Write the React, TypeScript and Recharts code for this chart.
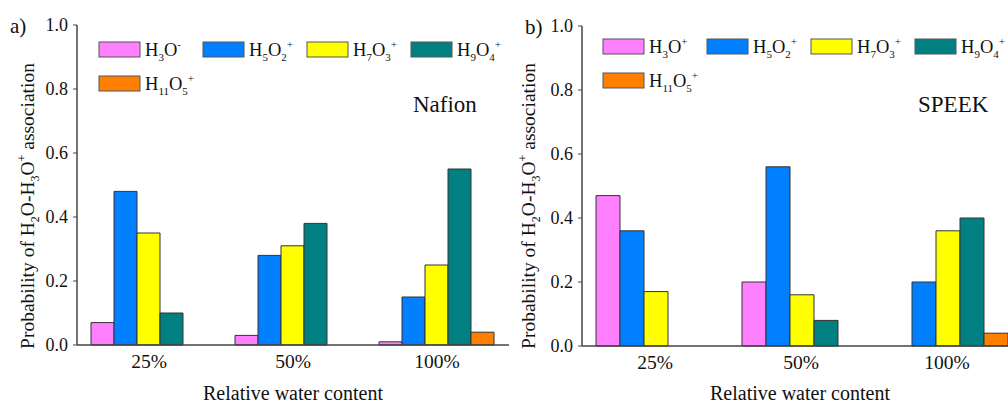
import { Bar, BarChart, XAxis, YAxis } from 'recharts';

const FONT = '"Liberation Serif", "Times New Roman", serif';

const categories = ['25%', '50%', '100%'];
const yTicks = [0, 0.2, 0.4, 0.6, 0.8, 1.0];

// a) Nafion
const nafionH3O = [0.07, 0.03, 0.01];
const nafionH5O2 = [0.48, 0.28, 0.15];
const nafionH7O3 = [0.35, 0.31, 0.25];
const nafionH9O4 = [0.1, 0.38, 0.55];
const nafionH11O5 = [0, 0, 0.04];

// b) SPEEK
const speekH3O = [0.47, 0.2, 0];
const speekH5O2 = [0.36, 0.56, 0.2];
const speekH7O3 = [0.17, 0.16, 0.36];
const speekH9O4 = [0, 0.08, 0.4];
const speekH11O5 = [0, 0, 0.04];

const seriesKeys = ['h3o', 'h5o2', 'h7o3', 'h9o4', 'h11o5'];
const seriesColors = ['#ff80ff', '#0080ff', '#ffff00', '#008080', '#ff8000'];
// H and O subscripts for each cluster
const seriesH = ['3', '5', '7', '9', '11'];
const seriesO = ['', '2', '3', '4', '5'];

const buildRows = (cols: number[][]) =>
  categories.map((cat, i) => {
    const row: Record<string, string | number> = { cat };
    seriesKeys.forEach((k, j) => (row[k] = cols[j][i]));
    return row;
  });

const nafionRows = buildRows([nafionH3O, nafionH5O2, nafionH7O3, nafionH9O4, nafionH11O5]);
const speekRows = buildRows([speekH3O, speekH5O2, speekH7O3, speekH9O4, speekH11O5]);

const AXIS = '#444';

const YTick = (props: any) => (
  <text x={props.x} y={props.y} dy={6} textAnchor="end" fontSize={18} fill="#111" fontFamily={FONT}>
    {Number(props.payload.value).toFixed(1)}
  </text>
);

const XTick = (props: any) => (
  <text x={props.x} y={props.y} dy={23} textAnchor="middle" fontSize={19.5} fill="#111" fontFamily={FONT}>
    {props.payload.value}
  </text>
);

interface PanelProps {
  rows: Record<string, string | number>[];
  left: number;
  width: number;
  margin: { top: number; right: number; bottom: number; left: number };
}

function Panel({ rows, left, width, margin }: PanelProps) {
  return (
    <div style={{ position: 'absolute', left, top: 0 }}>
      <BarChart width={width} height={403} data={rows} margin={margin} barCategoryGap={14} barGap={0}>
        <XAxis
          dataKey="cat"
          height={30}
          tickSize={0}
          tickMargin={0}
          tickLine={false}
          axisLine={{ stroke: AXIS, strokeWidth: 1.5 }}
          tick={<XTick />}
        />
        <XAxis
          xAxisId="top"
          dataKey="cat"
          orientation="top"
          height={0}
          tick={false}
          tickLine={false}
          axisLine={{ stroke: AXIS, strokeWidth: 1.5 }}
        />
        <YAxis
          width={60}
          domain={[0, 1]}
          ticks={yTicks}
          tickSize={4}
          tickMargin={5}
          tickLine={{ stroke: AXIS }}
          axisLine={{ stroke: AXIS, strokeWidth: 1.5 }}
          tick={<YTick />}
        />
        <YAxis
          yAxisId="right"
          orientation="right"
          width={0}
          domain={[0, 1]}
          tick={false}
          tickLine={false}
          axisLine={{ stroke: AXIS, strokeWidth: 1.5 }}
        />
        {seriesKeys.map((k, j) => (
          <Bar
            key={k}
            dataKey={k}
            fill={seriesColors[j]}
            stroke="#333"
            strokeWidth={1}
            isAnimationActive={false}
          />
        ))}
      </BarChart>
    </div>
  );
}

const Formula = ({ j, charge }: { j: number; charge: string }) => (
  <>
    H<tspan dy={5} fontSize={11}>{seriesH[j]}</tspan>
    <tspan dy={-5}>O</tspan>
    {seriesO[j] && <tspan dy={5} fontSize={11}>{seriesO[j]}</tspan>}
    <tspan dy={seriesO[j] ? -13 : -8} fontSize={11}>{charge}</tspan>
  </>
);

function LegendBlock({ x0, y0, charge }: { x0: number; y0: number; charge: string }) {
  return (
    <g>
      {seriesKeys.map((k, j) => {
        const bx = x0 + (j % 4) * 104;
        const by = y0 + Math.floor(j / 4) * 34;
        return (
          <g key={k}>
            <rect x={bx} y={by} width={41} height={15} fill={seriesColors[j]} stroke="#555" strokeWidth={1} />
            <text x={bx + 46} y={by + 14} fontSize={18.5} fill="#111" fontFamily={FONT}>
              <Formula j={j} charge={j === 0 ? charge : '+'} />
            </text>
          </g>
        );
      })}
    </g>
  );
}

const YTitle = ({ x, y }: { x: number; y: number }) => (
  <text x={x} y={y} transform={`rotate(-90 ${x} ${y})`} textAnchor="middle" fontSize={19.5} fill="#111" fontFamily={FONT}>
    Probability of H<tspan dy={5} fontSize={12}>2</tspan>
    <tspan dy={-5}>O-H</tspan>
    <tspan dy={5} fontSize={12}>3</tspan>
    <tspan dy={-5}>O</tspan>
    <tspan dy={-8} fontSize={12}>+</tspan>
    <tspan dy={8}> association</tspan>
  </text>
);

export default function App() {
  return (
    <div style={{ position: 'absolute', left: 0, top: 0, width: 1008, height: 403, overflow: 'hidden', background: '#fff' }}>
      <Panel rows={nafionRows} left={0} width={520} margin={{ top: 25, right: 11, bottom: 28, left: 17 }} />
      <Panel rows={speekRows} left={505} width={515} margin={{ top: 26, right: 0, bottom: 27, left: 17 }} />
      <svg width={1008} height={403} style={{ position: 'absolute', left: 0, top: 0, pointerEvents: 'none' }}>
        <text x={10} y={33} fontSize={21} fill="#111" fontFamily={FONT}>a)</text>
        <text x={525} y={34} fontSize={21} fill="#111" fontFamily={FONT}>b)</text>
        <YTitle x={34} y={206} />
        <YTitle x={535} y={206} />
        <LegendBlock x0={99} y0={42} charge="-" />
        <LegendBlock x0={603} y0={39} charge="+" />
        <text x={413} y={112} fontSize={23} fill="#111" fontFamily={FONT}>Nafion</text>
        <text x={918} y={112} fontSize={23} fill="#111" fontFamily={FONT}>SPEEK</text>
        <text x={293} y={400} textAnchor="middle" fontSize={20} fill="#111" fontFamily={FONT}>Relative water content</text>
        <text x={800} y={400} textAnchor="middle" fontSize={20} fill="#111" fontFamily={FONT}>Relative water content</text>
      </svg>
    </div>
  );
}
